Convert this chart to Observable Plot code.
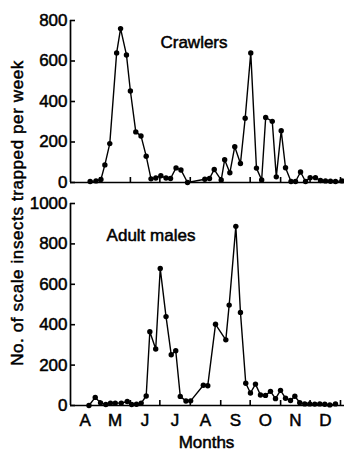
<!DOCTYPE html>
<html>
<head>
<meta charset="utf-8">
<script src="https://cdn.jsdelivr.net/npm/d3@7"></script>
<script src="https://cdn.jsdelivr.net/npm/@observablehq/plot@0.6"></script>
<style>
  body { margin: 0; background: #fff; }
  #wrap { position: relative; width: 344px; height: 450px; font-family: "Liberation Sans", Arial, sans-serif; color: #000; }
  #wrap svg { display: block; background: transparent; }
  #wrap svg text { stroke: #000; stroke-width: 0.5px; }
  #ylab { position: absolute; left: 17px; top: 213px; z-index: 2; transform: translate(-50%, -50%) rotate(-90deg);
          white-space: nowrap; font-size: 17px; letter-spacing: 0.6px; line-height: 1; -webkit-text-stroke: 0.5px #000; }
</style>
</head>
<body>
<div id="wrap"><div id="ylab">No. of scale insects trapped per week</div></div>
<script>
// Days since 1 April (x) and counts (y)
const crawlerDay = [20, 26, 31, 35, 40, 47, 51, 57, 61, 66.5, 71.8, 77.1, 82, 86.9, 92, 97.3, 101.9, 107.5, 112.5, 119.2,
  136.8, 141.6, 146.4, 153.5, 157, 162.3, 167.3, 173.1, 177.9, 183.6, 189.4, 194.7, 198.8, 205.5, 209.6, 214.6, 219,
  224.6, 229.2, 234.3, 239.4, 244.1, 249.5, 254.6, 259.7, 264.8, 269.9, 276.5];
const crawlerCount = [5, 8, 15, 87, 192, 640, 760, 630, 452, 250, 230, 130, 18, 22, 33, 22, 20, 72, 62, 0,
  16, 20, 64, 12, 112, 48, 177, 94, 317, 640, 71, 12, 321, 302, 28, 256, 73,
  5, 5, 52, 5, 24, 24, 10, 8, 6, 5, 8];

const maleDay = [18.8, 25.2, 30.6, 36, 40.7, 45.6, 51.7, 57.8, 62.3, 67.2, 72, 77.1, 80.8, 86.8, 91.4, 97.3, 102.6, 107.2,
  111.8, 117.6, 122.4, 135.3, 139.8, 147.7, 158.2, 161.6, 168.4, 173.1, 178.5, 183.3, 188.4, 193.5, 198.6, 203.7,
  208.8, 213.9, 219, 224.1, 228.5, 233.5, 238.6, 243.7, 248.8, 253.9, 259, 264.1, 269.9];
const maleCount = [0, 40, 13, 5, 12, 12, 12, 20, 5, 6, 12, 47, 365, 280, 678, 440, 251, 271,
  45, 22, 23, 100, 98, 402, 325, 497, 887, 461, 110, 62, 106, 52, 50, 70,
  34, 75, 36, 25, 46, 14, 8, 8, 7, 8, 6, 3, 8];

const monthStarts = [0, 30, 61, 91, 122, 153, 183, 214, 244, 275];
const monthLabels = ["A", "M", "J", "J", "A", "S", "O", "N", "D"];
const yTicksTop = [0, 200, 400, 600, 800];
const yTicksBottom = [0, 200, 400, 600, 800, 1000];

const monthCenters = monthStarts.slice(0, -1).map((s, i) => (s + monthStarts[i + 1]) / 2);
const baseStyle = { fontFamily: "Liberation Sans, Arial, sans-serif", fontSize: "17px",
  background: "transparent", overflow: "visible" };

function panel({ days, counts, yMax, yTicks, height, marginTop, marginBottom, title, titleDx, titleDy, months }) {
  const data = days.map((d, i) => ({ day: d, count: counts[i] }));
  const marks = [
    Plot.ruleY([0], { strokeWidth: 1.7 }),
    Plot.ruleX([0], { strokeWidth: 1.7 }),
    Plot.axisY({ ticks: yTicks, tickSize: -5, tickPadding: 8, tickFormat: d => String(d), label: null, strokeWidth: 1.6 }),
    Plot.axisX({ ticks: monthStarts.slice(1), tickSize: -5, tickFormat: () => "", label: null, strokeWidth: 1.6 }),
    Plot.line(data, { x: "day", y: "count", stroke: "black", strokeWidth: 1.4 }),
    Plot.dot(data, { x: "day", y: "count", r: 2.7, fill: "black", stroke: "none" }),
    Plot.text([title], { frameAnchor: "top", dx: titleDx, dy: titleDy, fontSize: 17 })
  ];
  if (months) {
    marks.push(Plot.axisX({ ticks: monthCenters, tickSize: 0, tickPadding: 8, label: null,
      tickFormat: d => monthLabels[monthCenters.indexOf(d)] }));
    marks.push(Plot.text(["Months"], { frameAnchor: "bottom", dx: -1, dy: 42, fontSize: 17 }));
  }
  return Plot.plot({
    width: 344, height, marginLeft: 70, marginRight: 0, marginTop, marginBottom,
    style: baseStyle,
    x: { domain: [0, 275], range: [70, 340] },
    y: { domain: [0, yMax] },
    marks
  });
}

const wrap = document.getElementById("wrap");
wrap.appendChild(panel({ days: crawlerDay, counts: crawlerCount, yMax: 800, yTicks: yTicksTop,
  height: 190, marginTop: 20, marginBottom: 8, title: "Crawlers", titleDx: -13.5, titleDy: 15, months: false }));
wrap.appendChild(panel({ days: maleDay, counts: maleCount, yMax: 1000, yTicks: yTicksBottom,
  height: 260, marginTop: 13, marginBottom: 45, title: "Adult males", titleDx: -56.5, titleDy: 25, months: true }));
</script>
</body>
</html>
